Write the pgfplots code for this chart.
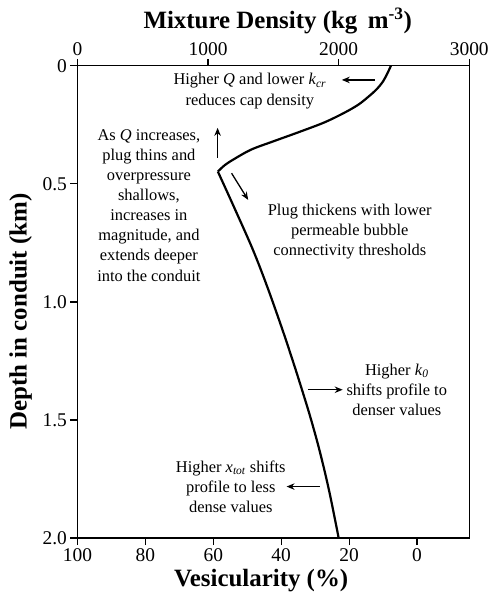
\documentclass[border=0pt]{standalone}
\usepackage{fontspec}
\setmainfont{Liberation Serif}
\usepackage{pgfplots}
\pgfplotsset{compat=1.18}
\usetikzlibrary{arrows.meta}
\tikzset{
  anno/.style={font=\fontsize{16.5}{20.2}\selectfont, align=center, inner sep=0pt},
  arr/.style={line width=1.3bp, -{Stealth[length=8bp,width=6.5bp]}},
}
\begin{document}
\begin{tikzpicture}
\pgfplotsset{
  common/.style={
    scale only axis, width=392bp, height=472.5bp,
    ymin=0, ymax=2, y dir=reverse,
    tick align=outside, major tick length=7bp,
    axis line style={line width=1.3bp, black},
    tick style={line width=1.2bp, black},
    tick label style={font=\fontsize{19.5}{22}\selectfont},
    label style={font=\fontsize{25}{30}\selectfont\bfseries},
  },
}
\begin{axis}[common, name=ax,
  xmin=0, xmax=3000,
  xtick={0,1000,2000,3000}, xticklabels={0,1000,2000,3000},
  xtick pos=right, xticklabel pos=right,
  ytick={0,0.5,1,1.5,2}, yticklabels={0,0.5,1.0,1.5,2.0},
  ytick pos=left,
  xlabel={Mixture Density (kg\, m\textsuperscript{-3})},
  xlabel style={at={(axis description cs:0.511,1.095)}, anchor=center},
  ylabel={Depth in conduit (km)},
  ylabel style={at={(axis description cs:-0.145,0.48)}, anchor=center, rotate=0},
  clip=false,
]
% upper branch (cap)
\addplot[line width=2.2bp, smooth, tension=0.55] coordinates {
(2400,0) (2375,0.03) (2340,0.066) (2290,0.10) (2230,0.13) (2150,0.165)
(2040,0.20) (1890,0.24) (1700,0.28) (1500,0.32) (1330,0.355) (1200,0.395)
(1130,0.42) (1075,0.448)};
% lower branch
\addplot[line width=2.2bp, smooth, tension=0.55] coordinates {
(1075,0.448) (1200,0.60) (1344,0.78) (1456,0.94) (1571,1.12) (1649,1.25)
(1701,1.34) (1779,1.48) (1854,1.63) (1927,1.80) (2000,2.0)};

\node[anno] at (axis cs:1320,0.107) {Higher \textit{Q} and lower \textit{k}\textsubscript{\textit{cr}}\\reduces cap density};
\draw[arr] (axis cs:2276,0.060) -- (axis cs:2024,0.060);

\node[anno] at (axis cs:547,0.591) {As \textit{Q} increases,\\plug thins and\\overpressure\\shallows,\\increases in\\magnitude, and\\extends deeper\\into the conduit};
\draw[arr] (axis cs:1073,0.390) -- (axis cs:1073,0.263);
\draw[arr] (axis cs:1180,0.455) -- (axis cs:1307,0.568);

\node[anno] at (axis cs:2085,0.702) {Plug thickens with lower\\permeable bubble\\connectivity thresholds};

\node[anno] at (axis cs:2445,1.372) {Higher \textit{k}\textsubscript{\textit{0}}\\shifts profile to\\denser values};
\draw[arr] (axis cs:1764,1.372) -- (axis cs:2031,1.372);

\node[anno] at (axis cs:1174,1.782) {Higher \textit{x}\textsubscript{\textit{tot}} shifts\\profile to less\\dense values};
\draw[arr] (axis cs:1855,1.782) -- (axis cs:1601,1.782);
\end{axis}
\begin{axis}[common,
  x dir=reverse, xmin=-15.3846, xmax=100,
  axis x line*=bottom, hide y axis,
  xtick={100,80,60,40,20,0}, xticklabels={100,80,60,40,20,0},
  xlabel={Vesicularity (\%)},
  xlabel style={at={(axis description cs:0.469,-0.091)}, anchor=center},
]
\addplot[draw=none] coordinates {(50,1)};
\end{axis}
\pgfresetboundingbox
\path ([shift={(-77.5bp,-61bp)}]ax.south west) rectangle ([shift={(22.5bp,65.8bp)}]ax.north east);
\end{tikzpicture}
\end{document}
